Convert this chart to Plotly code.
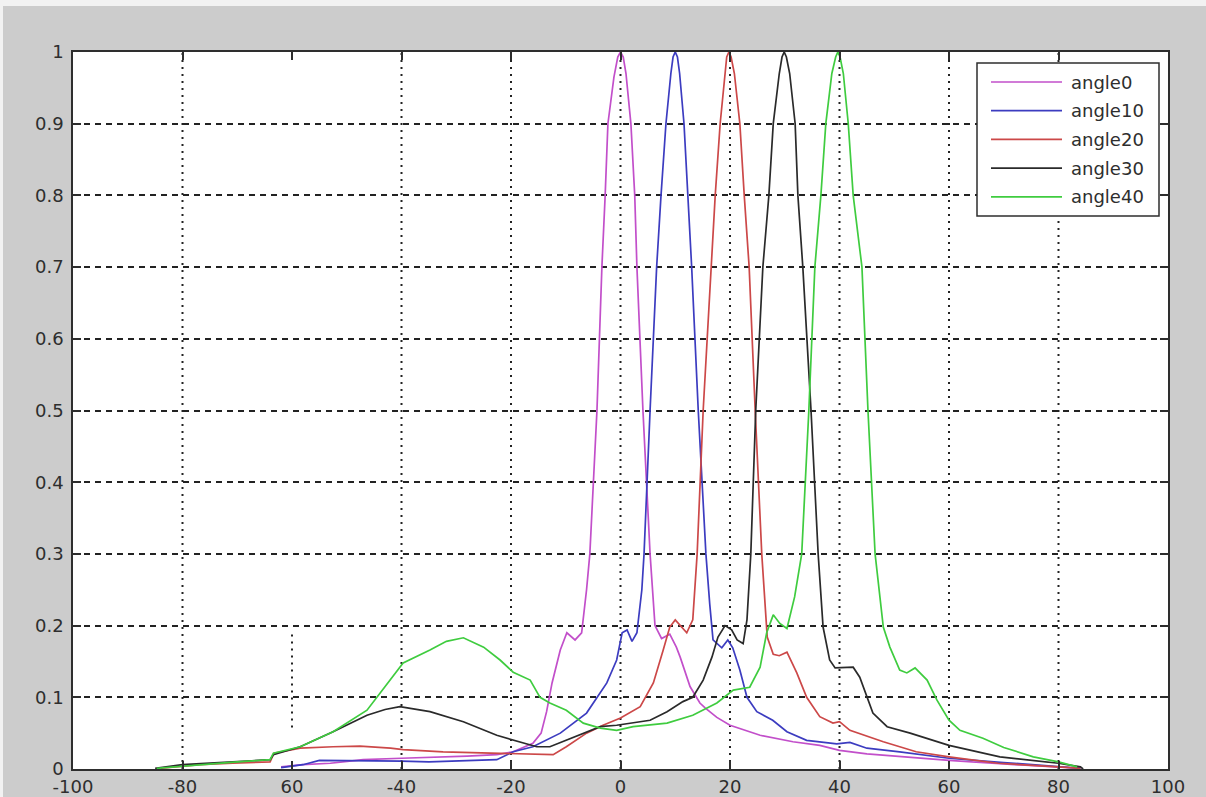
import plotly.graph_objects as go

# ---------------- data ----------------
NAMES = ["angle0", "angle10", "angle20", "angle30", "angle40"]
COLORS = ["#c24fca", "#3c3cc0", "#cc4848", "#2a2a2a", "#3fcc3f"]

x_angle0 = [-62, -58, -53, -47, -40, -34, -28, -22.6, -19.6, -16, -14.5, -13.5, -12.5, -11, -9.8, -8.3,
            -7.1, -6.2, -5.6, -4.3, -3.4, -2.8, -2.3, -1.2, -0.5, 0, 0.5, 1.0, 1.9, 2.6, 3.0, 4.1, 5.4,
            6.3, 7.5, 9.0, 10.2, 10.9, 12.7, 14.5, 15.5, 17.6, 20, 25.5, 31.5, 36.4, 40, 45, 51, 60, 70,
            80, 84]
y_angle0 = [0.003, 0.006, 0.008, 0.013, 0.015, 0.016, 0.018, 0.02, 0.024, 0.036, 0.05, 0.08, 0.12, 0.166,
            0.19, 0.18, 0.19, 0.25, 0.3, 0.5, 0.7, 0.8, 0.9, 0.965, 0.993, 1.0, 0.993, 0.97, 0.9, 0.8,
            0.7, 0.5, 0.3, 0.2, 0.182, 0.188, 0.17, 0.156, 0.115, 0.092, 0.085, 0.072, 0.061, 0.047,
            0.038, 0.033, 0.026, 0.021, 0.017, 0.012, 0.007, 0.003, 0.001]

x_angle10 = [-62, -58, -55, -50, -45, -40, -35, -30, -25, -22.6, -19.6, -16, -11, -6.2, -2.5, -0.7, 0.3,
             1.2, 2.1, 3.0, 3.9, 4.3, 5.4, 6.6, 7.4, 8.3, 9.2, 9.6, 10, 10.4, 10.8, 11.6, 12.3, 13.0,
             14.2, 15.6, 16.3, 16.9, 18.5, 19.6, 20.5, 21.8, 23.1, 24.9, 27.8, 30.4, 34, 39.5, 41.9, 45,
             51, 60, 70, 80, 84]
y_angle10 = [0.002, 0.006, 0.012, 0.012, 0.012, 0.011, 0.01, 0.011, 0.012, 0.013, 0.024, 0.031, 0.05,
             0.078, 0.12, 0.152, 0.19, 0.194, 0.178, 0.19, 0.25, 0.3, 0.5, 0.7, 0.8, 0.9, 0.97, 0.993,
             1.0, 0.993, 0.97, 0.9, 0.8, 0.7, 0.5, 0.3, 0.23, 0.18, 0.169, 0.18, 0.169, 0.138, 0.1, 0.08,
             0.068, 0.052, 0.04, 0.035, 0.037, 0.029, 0.024, 0.015, 0.009, 0.004, 0.001]

x_angle20 = [-84, -80, -76.8, -70.8, -64, -63.3, -58.5, -52.5, -47.6, -42, -39.7, -32.4, -22.6, -16.5,
             -12.3, -9.9, -6.2, -3.2, 0, 3.6, 6, 7.8, 9, 10, 11.2, 12.1, 13.2, 14.0, 15.1, 16.5, 17.3,
             18.2, 19.0, 19.4, 19.8, 20.2, 20.8, 21.8, 22.6, 23.5, 24.6, 25.8, 26.8, 27.9, 29.0, 30.4,
             32.2, 34, 36.4, 38.8, 40, 41.9, 48, 54, 60, 69, 80, 84]
y_angle20 = [0.001, 0.004, 0.006, 0.008, 0.01, 0.022, 0.029, 0.031, 0.032, 0.029, 0.027, 0.024, 0.022,
             0.02, 0.02, 0.031, 0.05, 0.061, 0.071, 0.087, 0.12, 0.166, 0.198, 0.208, 0.198, 0.19, 0.208,
             0.3, 0.5, 0.7, 0.8, 0.9, 0.97, 0.993, 1.0, 0.993, 0.97, 0.9, 0.8, 0.7, 0.5, 0.3, 0.184,
             0.16, 0.158, 0.163, 0.134, 0.1, 0.073, 0.064, 0.066, 0.054, 0.038, 0.024, 0.017, 0.008,
             0.003, 0.001]

x_angle30 = [-85, -80, -70.8, -64, -63.4, -58.5, -52.5, -46.3, -43, -40.3, -34.8, -28.7, -22.6, -18.4,
             -15.3, -12.9, -9.9, -6.2, -3.7, -0.7, 2.3, 5.4, 8.5, 11.4, 13.2, 15.1, 16.7, 17.8, 19.1,
             20.3, 21.3, 22.4, 23.1, 23.8, 24.7, 26.0, 27.1, 27.9, 29.0, 29.5, 29.9, 30.3, 30.9, 31.9,
             32.4, 33.3, 34.8, 36.1, 37.0, 38.2, 39.2, 42.5, 43.7, 45, 46.1, 48.7, 52.9, 60, 69.3, 80,
             84, 84.5]
y_angle30 = [0.001, 0.006, 0.01, 0.013, 0.02, 0.031, 0.052, 0.075, 0.083, 0.087, 0.08, 0.066, 0.047,
             0.038, 0.031, 0.031, 0.04, 0.052, 0.059, 0.061, 0.064, 0.068, 0.08, 0.094, 0.1, 0.124,
             0.156, 0.184, 0.2, 0.194, 0.18, 0.175, 0.208, 0.3, 0.5, 0.7, 0.8, 0.9, 0.97, 0.993, 1.0,
             0.993, 0.97, 0.9, 0.8, 0.7, 0.5, 0.3, 0.198, 0.152, 0.141, 0.142, 0.128, 0.1, 0.078, 0.059,
             0.05, 0.033, 0.017, 0.008, 0.003, 0.0]

x_angle40 = [-84.7, -76.8, -70, -64, -63.4, -58.5, -52.5, -46.3, -40.9, -39.7, -34.8, -31.8, -28.7, -25,
             -22, -19.6, -16.5, -14.7, -12.9, -9.9, -6.8, -3.7, -0.7, 2.3, 8.5, 13.2, 17.6, 20.6, 23.6,
             25.5, 26.7, 27.9, 29.1, 30.4, 31.8, 33.1, 34.4, 35.5, 36.6, 37.5, 38.6, 39.3, 39.7, 40.1,
             40.7, 41.6, 42.5, 44.1, 45.2, 46.5, 48, 49.2, 51, 52.3, 53.8, 56, 57.8, 60, 62, 66.2, 70,
             75.4, 80, 83.4]
y_angle40 = [0.001, 0.006, 0.01, 0.013, 0.022, 0.031, 0.052, 0.082, 0.135, 0.148, 0.166, 0.178, 0.183,
             0.17, 0.152, 0.135, 0.124, 0.1, 0.092, 0.082, 0.064, 0.057, 0.054, 0.059, 0.064, 0.075,
             0.092, 0.11, 0.114, 0.142, 0.19, 0.215, 0.203, 0.196, 0.24, 0.3, 0.5, 0.7, 0.8, 0.9, 0.97,
             0.993, 1.0, 0.993, 0.97, 0.9, 0.8, 0.7, 0.5, 0.3, 0.198, 0.17, 0.138, 0.134, 0.141, 0.124,
             0.096, 0.068, 0.054, 0.043, 0.03, 0.017, 0.01, 0.003]

X_TICKS = [-100, -80, -60, -40, -20, 0, 20, 40, 60, 80, 100]
X_TICKTEXT = ["-100", "-80", "60", "-40", "-20", "0", "20", "40", "60", "80", "100"]
Y_TICKS = [0, 0.1, 0.2, 0.3, 0.4, 0.5, 0.6, 0.7, 0.8, 0.9, 1]
Y_TICKTEXT = ["0", "0.1", "0.2", "0.3", "0.4", "0.5", "0.6", "0.7", "0.8", "0.9", "1"]

XS = [x_angle0, x_angle10, x_angle20, x_angle30, x_angle40]
YS = [y_angle0, y_angle10, y_angle20, y_angle30, y_angle40]

# ---------------- layout geometry ----------------
W, H = 1206, 797
ML, MR, MT, MB = 73, 38, 52, 28
PW, PH = W - ML - MR, H - MT - MB
FONT = "DejaVu Sans, Verdana, sans-serif"
INK = "#2e2e2e"


def px_x(p):  # pixel -> paper x
    return (p - ML) / PW


def px_y(p):  # pixel -> paper y
    return (H - MB - p) / PH


fig = go.Figure()
for name, color, xs, ys in zip(NAMES, COLORS, XS, YS):
    fig.add_trace(go.Scatter(x=xs, y=ys, mode="lines", name=name,
                             line=dict(color=color, width=1.7), showlegend=False))

shapes = []
# vertical dotted gridlines (the -60 one is only a short fragment in the reference)
for v in X_TICKS[1:-1]:
    if v == -60:
        y0, y1 = 0.058, 0.19
    else:
        y0, y1 = 0, 1
    shapes.append(dict(type="line", xref="x", yref="y", x0=v, x1=v, y0=y0, y1=y1,
                       line=dict(color="#222222", width=2, dash="2px,5px"), layer="below"))

# thin light strip at top/left edge of the screenshot
shapes.append(dict(type="rect", xref="paper", yref="paper", x0=px_x(0), x1=px_x(W),
                   y0=px_y(6), y1=px_y(0), fillcolor="#f2f2f2", line=dict(width=0), layer="below"))
shapes.append(dict(type="rect", xref="paper", yref="paper", x0=px_x(0), x1=px_x(3),
                   y0=px_y(H), y1=px_y(0), fillcolor="#f2f2f2", line=dict(width=0), layer="below"))

# legend box (MATLAB style)
LX0, LX1, LY0, LY1 = 977, 1159, 63, 216
shapes.append(dict(type="rect", xref="paper", yref="paper", x0=px_x(LX0), x1=px_x(LX1),
                   y0=px_y(LY1), y1=px_y(LY0), fillcolor="white",
                   line=dict(color=INK, width=1.5), layer="above"))
annotations = []
for i, (name, color) in enumerate(zip(NAMES, COLORS)):
    yy = 82 + i * 28.7
    shapes.append(dict(type="line", xref="paper", yref="paper", x0=px_x(991), x1=px_x(1062),
                       y0=px_y(yy), y1=px_y(yy), line=dict(color=color, width=1.7), layer="above"))
    annotations.append(dict(xref="paper", yref="paper", x=px_x(1069), y=px_y(yy), text=name,
                            showarrow=False, xanchor="left", yanchor="middle",
                            font=dict(family=FONT, size=18, color=INK)))

fig.update_layout(
    width=W, height=H,
    margin=dict(l=ML, r=MR, t=MT, b=MB, pad=0, autoexpand=False),
    paper_bgcolor="#cccccc",
    plot_bgcolor="white",
    showlegend=False,
    shapes=shapes,
    annotations=annotations,
    font=dict(family=FONT, size=18, color=INK),
)
fig.update_xaxes(
    range=[-100, 100], tickvals=X_TICKS, ticktext=X_TICKTEXT,
    showgrid=False, zeroline=False, automargin=False,
    showline=True, linecolor=INK, linewidth=1.5, mirror="ticks",
    ticks="inside", ticklen=8, tickwidth=1.5, tickcolor=INK,
    ticklabelstandoff=1,
    tickfont=dict(family=FONT, size=18, color=INK),
)
fig.update_yaxes(
    range=[0, 1], tickvals=Y_TICKS, ticktext=Y_TICKTEXT,
    showgrid=True, gridcolor="#222222", gridwidth=2, griddash="6px,5px",
    zeroline=False, automargin=False,
    showline=True, linecolor=INK, linewidth=1.5, mirror="ticks",
    ticks="inside", ticklen=8, tickwidth=1.5, tickcolor=INK,
    ticklabelstandoff=4,
    tickfont=dict(family=FONT, size=18, color=INK),
)

fig.write_html("out.html")
